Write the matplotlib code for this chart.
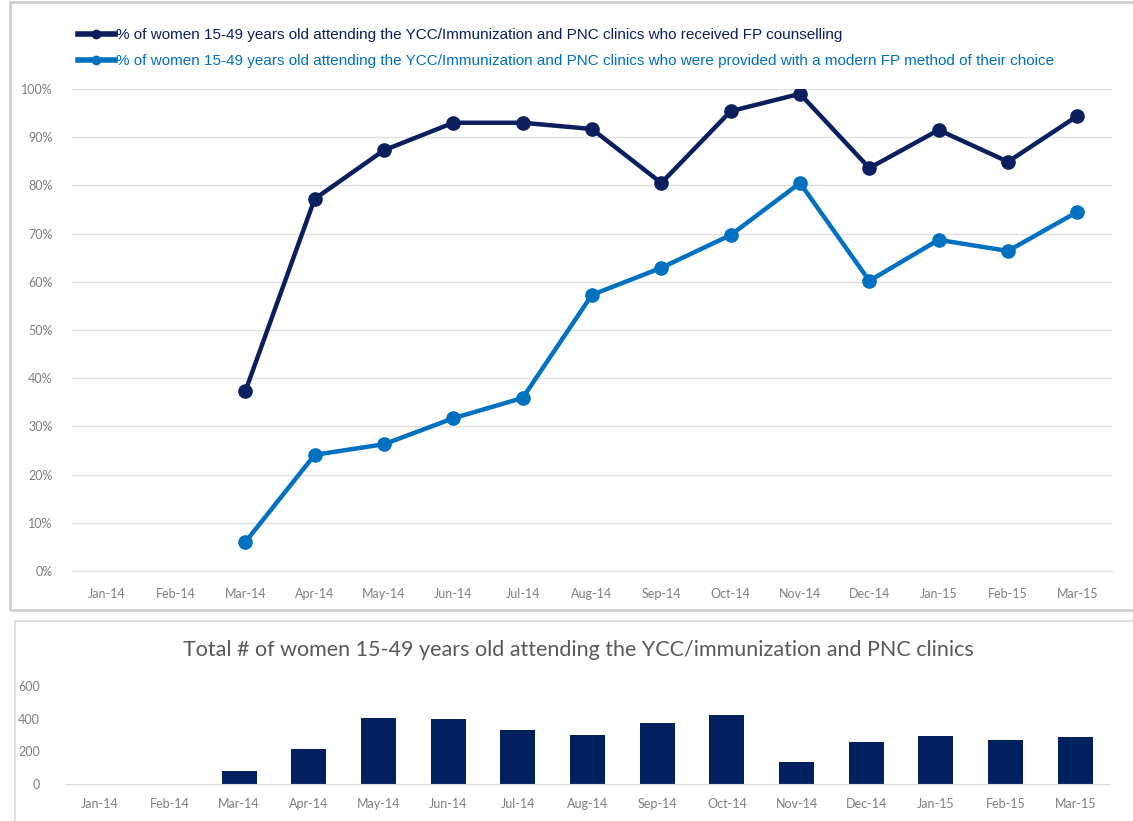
import numpy as np
import matplotlib
matplotlib.use('Agg')
import matplotlib.pyplot as plt
from matplotlib.patches import Rectangle
from matplotlib.ticker import PercentFormatter

# datos
meses = ['Jan-14', 'Feb-14', 'Mar-14', 'Apr-14', 'May-14', 'Jun-14', 'Jul-14', 'Aug-14',
         'Sep-14', 'Oct-14', 'Nov-14', 'Dec-14', 'Jan-15', 'Feb-15', 'Mar-15']
consejeria = [np.nan, np.nan, 0.373, 0.772, 0.873, 0.930, 0.930, 0.917,
              0.805, 0.954, 0.990, 0.836, 0.915, 0.849, 0.944]
metodo = [np.nan, np.nan, 0.060, 0.241, 0.263, 0.317, 0.359, 0.573,
          0.629, 0.697, 0.805, 0.602, 0.687, 0.664, 0.745]
total_mujeres = [0, 0, 82, 216, 405, 397, 333, 302, 376, 421, 136, 255, 296, 271, 286]

etiqueta_1 = '% of women 15-49 years old attending the YCC/Immunization and PNC clinics who received FP counselling'
etiqueta_2 = '% of women 15-49 years old attending the YCC/Immunization and PNC clinics who were provided with a modern FP method of their choice'
titulo_barras = 'Total # of women 15-49 years old attending the YCC/immunization and PNC clinics'

azul_oscuro = '#0b1f5e'
azul_claro = '#0070c0'
gris_texto = '#7f7f7f'

fig = plt.figure(figsize=(11.33, 8.21), dpi=100)
W, H = 1133, 821

# marcos de los paneles
fig.patches.append(Rectangle((10 / W, 1 - 610 / H), 1.2, (610 - 2) / H, transform=fig.transFigure,
                             fill=False, edgecolor='#cfcfcf', linewidth=2))
fig.patches.append(Rectangle((15 / W, -0.1), 1.2, 0.1 + (821 - 621) / H, transform=fig.transFigure,
                             fill=False, edgecolor='#dcdcdc', linewidth=1.2))

# gráfico de líneas
x = np.arange(len(meses))
ax = fig.add_axes([72 / W, 1 - 571 / H, (1112 - 72) / W, (571 - 89) / H])
ax.plot(x, consejeria, '-o', color=azul_oscuro, linewidth=3.2, markersize=9.5, label=etiqueta_1, zorder=3)
ax.plot(x, metodo, '-o', color=azul_claro, linewidth=3.2, markersize=9.5, label=etiqueta_2, zorder=3)
ax.set_xlim(-0.5, len(meses) - 0.5)
ax.set_ylim(0, 1)
ax.set_yticks(np.arange(0, 1.01, 0.1))
ax.yaxis.set_major_formatter(PercentFormatter(1.0, decimals=0))
ax.set_xticks(x)
ax.set_xticklabels(meses)
ax.grid(axis='y', color='#e0e0e0', linewidth=1)
ax.set_axisbelow(True)
for lado in ['top', 'right', 'left']:
    ax.spines[lado].set_visible(False)
ax.spines['bottom'].set_color('#e0e0e0')
ax.tick_params(length=0, labelsize=9, labelcolor=gris_texto, pad=12)
ax.tick_params(axis='y', pad=14)
for t in ax.get_xticklabels() + ax.get_yticklabels():
    t.set_fontfamily('Lato')

leg = ax.legend(loc='lower left', bbox_to_anchor=(0.0, 1.03), frameon=False,
                handlelength=2.4, handletextpad=0.1, labelspacing=0.8, borderaxespad=0,
                labelcolor='linecolor', prop={'family': 'Liberation Sans', 'size': 11})
for h in leg.legend_handles:
    h.set_markersize(6)
    h.set_linewidth(4)

# gráfico de barras
ax2 = fig.add_axes([65 / W, 1 - 784 / H, (1110 - 65) / W, (784 - 686) / H])
ax2.bar(x, total_mujeres, width=0.5, color='#002060')
ax2.set_xlim(-0.5, len(meses) - 0.5)
ax2.set_ylim(0, 600)
ax2.set_yticks([0, 200, 400, 600])
ax2.set_xticks(x)
ax2.set_xticklabels(meses)
for lado in ['top', 'right', 'left']:
    ax2.spines[lado].set_visible(False)
ax2.spines['bottom'].set_color('#d9d9d9')
ax2.tick_params(length=0, labelsize=9, labelcolor=gris_texto, pad=10)
ax2.tick_params(axis='y', pad=18)
for t in ax2.get_xticklabels() + ax2.get_yticklabels():
    t.set_fontfamily('Lato')

fig.text(578 / W, 1 - 650 / H, titulo_barras, ha='center', va='center', fontsize=15.5,
         color='#595959', family='Lato')

fig.savefig('out.png', dpi=100)
